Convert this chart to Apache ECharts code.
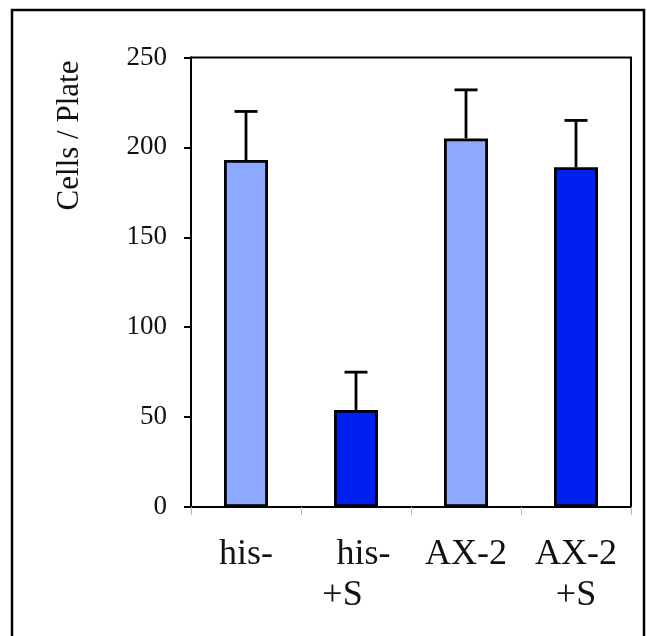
<!DOCTYPE html>
<html>
<head>
<meta charset="utf-8">
<script src="https://cdn.jsdelivr.net/npm/echarts@6/dist/echarts.min.js"></script>
<style>
html,body{margin:0;padding:0;background:#fff;}
#chart{width:647px;height:636px;}
</style>
</head>
<body>
<div id="chart"></div>
<script>
const categories = ['his-', 'his-\n+S', 'AX-2', 'AX-2\n+S'];
const values = [193, 54, 205, 189];
const errorUpper = [220, 75, 232, 215];
const barColors = ['#8CA8FF', '#0020F0', '#8CA8FF', '#0020F0'];
const yTicks = [0, 50, 100, 150, 200, 250];
const yTitle = 'Cells / Plate';

const chart = echarts.init(document.getElementById('chart'), null, {renderer: 'canvas'});
const FONT = '"Liberation Serif", "Times New Roman", serif';

const option = {
  animation: false,
  backgroundColor: '#fff',
  graphic: [
    {
      type: 'rect',
      shape: {x: 12, y: 10, width: 632, height: 700},
      style: {fill: 'none', stroke: '#000', lineWidth: 2.5},
      z: 100
    },
    {
      type: 'text',
      x: 70, y: 135.5,
      rotation: Math.PI / 2,
      style: {
        text: yTitle,
        font: '31px ' + FONT,
        fill: '#111',
        align: 'center',
        verticalAlign: 'middle'
      }
    }
  ],
  grid: {
    left: 191, top: 57.5, right: 16, bottom: 129,
    show: true, borderColor: '#000', borderWidth: 2, backgroundColor: 'transparent'
  },
  xAxis: {
    type: 'category',
    data: categories,
    axisLine: {show: true, lineStyle: {color: '#000', width: 2}},
    axisTick: {show: true, alignWithLabel: false, length: 8, lineStyle: {color: '#bbb', width: 1}},
    axisLabel: {
      margin: 27,
      interval: 0,
      color: '#111',
      fontFamily: FONT,
      fontSize: 36,
      lineHeight: 41,
      formatter: function (v, i) {
        const parts = v.split('\n');
        if (i === 1) {
          return '{a|' + parts[0] + '}\n{b|' + parts[1] + '}';
        }
        return parts.map(p => '{c|' + p + '}').join('\n');
      },
      rich: {
        a: {fontFamily: FONT, fontSize: 36, lineHeight: 41, color: '#111', padding: [0, 0, 0, 15]},
        b: {fontFamily: FONT, fontSize: 36, lineHeight: 41, color: '#111', padding: [0, 27, 0, 0]},
        c: {fontFamily: FONT, fontSize: 36, lineHeight: 41, color: '#111'}
      }
    },
    splitLine: {show: false}
  },
  yAxis: {
    type: 'value',
    min: yTicks[0],
    max: yTicks[yTicks.length - 1],
    interval: yTicks[1] - yTicks[0],
    axisLine: {show: true, lineStyle: {color: '#000', width: 2}},
    axisTick: {show: true, inside: false, length: 7, lineStyle: {color: '#000', width: 2}},
    axisLabel: {
      margin: 24,
      color: '#111',
      fontFamily: FONT,
      fontSize: 27,
      padding: [0, 0, 7, 0]
    },
    splitLine: {show: false}
  },
  series: [
    {
      type: 'bar',
      barWidth: 44,
      data: values.map((v, i) => ({
        value: v,
        itemStyle: {color: barColors[i], borderColor: '#000', borderWidth: 2.8}
      })),
      z: 2
    },
    {
      type: 'custom',
      z: 3,
      data: values.map((v, i) => [i, v, errorUpper[i]]),
      renderItem: function (params, api) {
        const base = api.coord([api.value(0), api.value(1)]);
        const top = api.coord([api.value(0), api.value(2)]);
        const half = 11.5;
        const st = {stroke: '#000', lineWidth: 2.8};
        return {
          type: 'group',
          children: [
            {type: 'line', shape: {x1: base[0], y1: base[1], x2: top[0], y2: top[1]}, style: st},
            {type: 'line', shape: {x1: top[0] - half, y1: top[1], x2: top[0] + half, y2: top[1]}, style: st}
          ]
        };
      }
    }
  ]
};
chart.setOption(option);
</script>
</body>
</html>
